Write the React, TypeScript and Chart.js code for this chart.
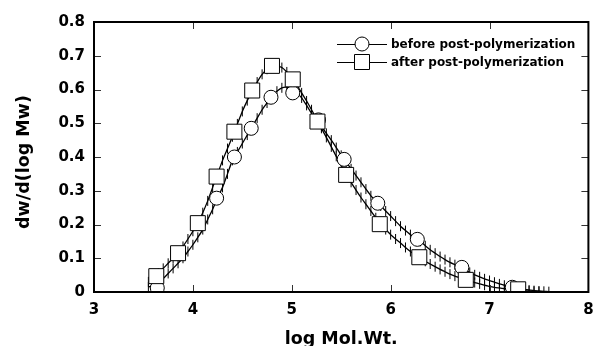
import React, { useEffect, useRef } from 'react';
import { Chart, registerables } from 'chart.js';
Chart.register(...registerables);

// Dense curve: before post-polymerization
const beforeX = [3.55, 3.6, 3.65, 3.7, 3.75, 3.8, 3.85, 3.9, 3.95, 4.0, 4.05, 4.1, 4.15, 4.2, 4.25, 4.3, 4.35, 4.4, 4.45, 4.5, 4.55, 4.6, 4.65, 4.7, 4.75, 4.8, 4.85, 4.9, 4.95, 5.0, 5.05, 5.1, 5.15, 5.2, 5.25, 5.3, 5.35, 5.4, 5.45, 5.5, 5.55, 5.6, 5.65, 5.7, 5.75, 5.8, 5.85, 5.9, 5.95, 6.0, 6.05, 6.1, 6.15, 6.2, 6.25, 6.3, 6.35, 6.4, 6.45, 6.5, 6.55, 6.6, 6.65, 6.7, 6.75, 6.8, 6.85, 6.9, 6.95, 7.0, 7.05, 7.1, 7.15, 7.2, 7.25, 7.3, 7.35, 7.4, 7.45, 7.5, 7.55, 7.6];
const beforeY = [0.015, 0.02, 0.03, 0.04, 0.055, 0.07, 0.085, 0.10, 0.12, 0.14, 0.162, 0.185, 0.215, 0.245, 0.28, 0.31, 0.35, 0.39, 0.415, 0.44, 0.465, 0.49, 0.515, 0.54, 0.56, 0.58, 0.595, 0.605, 0.607, 0.60, 0.59, 0.575, 0.553, 0.53, 0.51, 0.49, 0.47, 0.45, 0.428, 0.405, 0.385, 0.365, 0.345, 0.325, 0.305, 0.285, 0.27, 0.255, 0.24, 0.225, 0.21, 0.195, 0.182, 0.17, 0.16, 0.15, 0.137, 0.125, 0.115, 0.105, 0.096, 0.088, 0.081, 0.074, 0.066, 0.058, 0.051, 0.045, 0.039, 0.034, 0.029, 0.024, 0.02, 0.016, 0.013, 0.01, 0.008, 0.006, 0.004, 0.003, 0.002, 0.001];
// Dense curve: after post-polymerization
const afterX = [3.55, 3.6, 3.65, 3.7, 3.75, 3.8, 3.85, 3.9, 3.95, 4.0, 4.05, 4.1, 4.15, 4.2, 4.25, 4.3, 4.35, 4.4, 4.45, 4.5, 4.55, 4.6, 4.65, 4.7, 4.75, 4.8, 4.85, 4.9, 4.95, 5.0, 5.05, 5.1, 5.15, 5.2, 5.25, 5.3, 5.35, 5.4, 5.45, 5.5, 5.55, 5.6, 5.65, 5.7, 5.75, 5.8, 5.85, 5.9, 5.95, 6.0, 6.05, 6.1, 6.15, 6.2, 6.25, 6.3, 6.35, 6.4, 6.45, 6.5, 6.55, 6.6, 6.65, 6.7, 6.75, 6.8, 6.85, 6.9, 6.95, 7.0, 7.05, 7.1, 7.15, 7.2, 7.25, 7.3, 7.35, 7.4, 7.45, 7.5];
const afterY = [0.03, 0.04, 0.055, 0.07, 0.085, 0.10, 0.117, 0.135, 0.157, 0.18, 0.205, 0.235, 0.27, 0.31, 0.35, 0.39, 0.425, 0.46, 0.498, 0.535, 0.567, 0.595, 0.622, 0.645, 0.66, 0.67, 0.67, 0.665, 0.652, 0.635, 0.614, 0.59, 0.566, 0.54, 0.513, 0.485, 0.458, 0.43, 0.402, 0.375, 0.35, 0.325, 0.302, 0.28, 0.26, 0.24, 0.22, 0.20, 0.185, 0.17, 0.157, 0.145, 0.132, 0.12, 0.11, 0.10, 0.091, 0.083, 0.075, 0.067, 0.06, 0.053, 0.047, 0.042, 0.037, 0.032, 0.028, 0.024, 0.02, 0.017, 0.014, 0.012, 0.01, 0.008, 0.006, 0.005, 0.004, 0.003, 0.002, 0.001];

// Marker points
const circleX = [3.64, 4.24, 4.42, 4.59, 4.79, 5.01, 5.27, 5.53, 5.87, 6.27, 6.72, 7.23];
const circleY = [0.012, 0.278, 0.40, 0.485, 0.577, 0.59, 0.51, 0.393, 0.263, 0.156, 0.073, 0.014];
const squareX = [3.63, 3.85, 4.05, 4.24, 4.42, 4.60, 4.80, 5.01, 5.26, 5.55, 5.89, 6.29, 6.76, 7.29];
const squareY = [0.047, 0.115, 0.204, 0.342, 0.475, 0.597, 0.670, 0.63, 0.505, 0.347, 0.201, 0.103, 0.036, 0.008];

const xTicks = [3, 4, 5, 6, 7, 8];
const yTicks = [0, 0.1, 0.2, 0.3, 0.4, 0.5, 0.6, 0.7, 0.8];
const legendLabels = ['before post-polymerization', 'after post-polymerization'];
const xTitle = 'log Mol.Wt.';
const yTitle = 'dw/d(log Mw)';

const FONT = '"DejaVu Sans", "Liberation Sans", Arial, sans-serif';

const pts = (xs: number[], ys: number[]) => xs.map((x, i) => ({ x, y: ys[i] }));

const framePlugin = {
  id: 'frameTicks',
  afterDraw(chart: any) {
    const { ctx, chartArea } = chart;
    const { left, right, top, bottom } = chartArea;
    const xs = chart.scales.x;
    const ys = chart.scales.y;
    ctx.save();
    ctx.strokeStyle = '#333';
    ctx.lineWidth = 1;
    const tl = 7;
    xTicks.slice(1, -1).forEach((v) => {
      const px = Math.round(xs.getPixelForValue(v)) + 0.5;
      ctx.beginPath();
      ctx.moveTo(px, bottom);
      ctx.lineTo(px, bottom - tl);
      ctx.moveTo(px, top);
      ctx.lineTo(px, top + tl);
      ctx.stroke();
    });
    yTicks.slice(1, -1).forEach((v) => {
      const py = Math.round(ys.getPixelForValue(v)) + 0.5;
      ctx.beginPath();
      ctx.moveTo(left, py);
      ctx.lineTo(left + tl, py);
      ctx.moveTo(right, py);
      ctx.lineTo(right - tl, py);
      ctx.stroke();
    });
    ctx.strokeStyle = '#000';
    ctx.lineWidth = 2;
    ctx.strokeRect(left, top, right - left, bottom - top);

    // axis titles
    ctx.fillStyle = '#000';
    ctx.font = `bold 17.5px ${FONT}`;
    ctx.textAlign = 'center';
    ctx.textBaseline = 'alphabetic';
    ctx.fillText(xTitle, (left + right) / 2, 344);
    ctx.save();
    ctx.translate(29, 162);
    ctx.rotate(-Math.PI / 2);
    ctx.fillText(yTitle, 0, 0);
    ctx.restore();

    // legend
    const rows = [44, 62];
    rows.forEach((ry, i) => {
      ctx.strokeStyle = '#000';
      ctx.lineWidth = 1;
      ctx.beginPath();
      ctx.moveTo(337, ry + 0.5);
      ctx.lineTo(387, ry + 0.5);
      ctx.stroke();
      ctx.fillStyle = '#fff';
      ctx.beginPath();
      if (i === 0) {
        ctx.arc(362, ry, 7, 0, Math.PI * 2);
      } else {
        ctx.rect(354.5, ry - 7.5, 15, 15);
      }
      ctx.fill();
      ctx.stroke();
      ctx.fillStyle = '#000';
      ctx.font = `bold 12px ${FONT}`;
      ctx.textAlign = 'left';
      ctx.textBaseline = 'middle';
      ctx.fillText(legendLabels[i], 391, ry + 0.5);
    });
    ctx.restore();
  },
};

const curveStyle = {
  showLine: true,
  borderColor: '#000',
  borderWidth: 1.3,
  tension: 0.2,
  pointStyle: 'line',
  rotation: 90,
  pointRadius: 5,
  pointBorderColor: '#000',
  pointBorderWidth: 1,
};

export default function App() {
  const ref = useRef<HTMLCanvasElement>(null);
  useEffect(() => {
    if (!ref.current) return;
    const chart = new Chart(ref.current, {
      type: 'scatter',
      data: {
        datasets: [
          {
            label: 'after markers',
            data: pts(squareX, squareY),
            showLine: false,
            pointStyle: 'rect',
            pointRadius: 10.6,
            pointBackgroundColor: '#fff',
            pointBorderColor: '#000',
            pointBorderWidth: 1,
          },
          {
            label: 'before markers',
            data: pts(circleX, circleY),
            showLine: false,
            pointStyle: 'circle',
            pointRadius: 7,
            pointBackgroundColor: '#fff',
            pointBorderColor: '#000',
            pointBorderWidth: 1,
          },
          { label: legendLabels[1], data: pts(afterX, afterY), ...curveStyle } as any,
          { label: legendLabels[0], data: pts(beforeX, beforeY), ...curveStyle } as any,
        ],
      },
      options: {
        responsive: false,
        animation: false,
        layout: { padding: { top: 22, right: 4, left: 0, bottom: 0 } },
        plugins: { legend: { display: false }, tooltip: { enabled: false } },
        scales: {
          x: {
            type: 'linear',
            min: 3,
            max: 8,
            grid: { display: false, drawTicks: false },
            border: { display: false },
            ticks: {
              stepSize: 1,
              padding: 9,
              color: '#000',
              font: { family: FONT, size: 15, weight: 'bold' },
            },
            afterFit: (s: any) => {
              s.height = 54;
              s.paddingLeft = 0;
              s.paddingRight = 0;
            },
          },
          y: {
            type: 'linear',
            min: 0,
            max: 0.8,
            grid: { display: false, drawTicks: false },
            border: { display: false },
            ticks: {
              stepSize: 0.1,
              padding: 9,
              color: '#000',
              font: { family: FONT, size: 15, weight: 'bold' },
              callback: (v: any) => (Number(v) === 0 ? '0' : Number(v).toFixed(1)),
            },
            afterFit: (s: any) => {
              s.width = 94;
              s.paddingTop = 0;
              s.paddingBottom = 0;
            },
          },
        },
      } as any,
      plugins: [framePlugin],
    });
    return () => chart.destroy();
  }, []);
  return (
    <div style={{ position: 'absolute', left: 0, top: 0, width: 600, height: 346, background: '#fff' }}>
      <canvas ref={ref} width={600} height={346} style={{ display: 'block' }} />
    </div>
  );
}
